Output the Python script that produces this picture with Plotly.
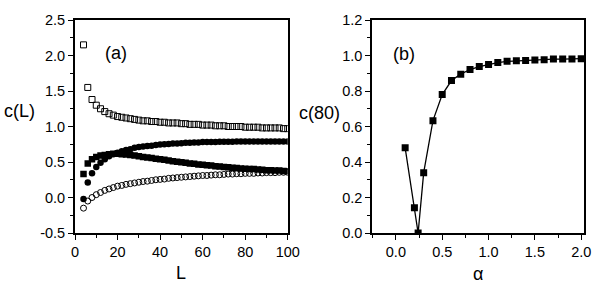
import plotly.graph_objects as go

# ---------------- data ----------------
L_vals = list(range(4, 101, 2))

c_sq_open = [2.15, 1.55, 1.38, 1.30, 1.25, 1.21, 1.18, 1.16, 1.14, 1.13,
             1.12, 1.11, 1.10, 1.09, 1.08, 1.08, 1.07, 1.07, 1.06, 1.06,
             1.05, 1.05, 1.05, 1.04, 1.04, 1.03, 1.03, 1.03, 1.02, 1.02,
             1.02, 1.01, 1.01, 1.01, 1.00, 1.00, 1.00, 1.00, 0.99, 0.99,
             0.99, 0.99, 0.98, 0.98, 0.98, 0.98, 0.98, 0.97, 0.97]

c_circ_fill = [-0.02, 0.21, 0.34, 0.43, 0.49, 0.54, 0.58, 0.61, 0.63, 0.65,
               0.67, 0.68, 0.70, 0.71, 0.72, 0.725, 0.73, 0.74, 0.745, 0.75,
               0.755, 0.76, 0.76, 0.765, 0.77, 0.77, 0.775, 0.775, 0.78, 0.78,
               0.78, 0.78, 0.785, 0.785, 0.785, 0.785, 0.79, 0.79, 0.79, 0.79,
               0.79, 0.79, 0.79, 0.79, 0.79, 0.79, 0.79, 0.79, 0.79]

c_sq_fill = [0.33, 0.48, 0.54, 0.57, 0.59, 0.60, 0.61, 0.615, 0.615, 0.61,
             0.605, 0.60, 0.59, 0.58, 0.57, 0.565, 0.555, 0.545, 0.54, 0.53,
             0.52, 0.51, 0.505, 0.495, 0.49, 0.48, 0.475, 0.465, 0.46, 0.455,
             0.45, 0.44, 0.435, 0.43, 0.425, 0.42, 0.415, 0.41, 0.405, 0.40,
             0.40, 0.395, 0.39, 0.385, 0.385, 0.38, 0.38, 0.375, 0.37]

c_circ_open = [-0.15, -0.05, 0.00, 0.04, 0.07, 0.10, 0.12, 0.14, 0.16, 0.17,
               0.185, 0.195, 0.205, 0.215, 0.225, 0.23, 0.24, 0.25, 0.255, 0.26,
               0.27, 0.275, 0.28, 0.285, 0.29, 0.295, 0.30, 0.305, 0.31, 0.31,
               0.315, 0.32, 0.32, 0.325, 0.33, 0.33, 0.335, 0.335, 0.34, 0.34,
               0.34, 0.345, 0.345, 0.35, 0.35, 0.35, 0.355, 0.355, 0.355]

alpha_vals = [0.1, 0.2, 0.24, 0.3, 0.4, 0.5, 0.6, 0.7, 0.8, 0.9, 1.0,
              1.1, 1.2, 1.3, 1.4, 1.5, 1.6, 1.7, 1.8, 1.9, 2.0]
c80_vals = [0.48, 0.142, 0.0, 0.34, 0.633, 0.78, 0.859, 0.895, 0.921, 0.938, 0.95,
            0.96, 0.967, 0.97, 0.972, 0.974, 0.976, 0.98, 0.98, 0.98, 0.982]

left_xticks = [0, 20, 40, 60, 80, 100]
left_yticks = [-0.5, 0.0, 0.5, 1.0, 1.5, 2.0, 2.5]
right_xticks = [0.0, 0.5, 1.0, 1.5, 2.0]
right_yticks = [0.0, 0.2, 0.4, 0.6, 0.8, 1.0, 1.2]

# ---------------- figure ----------------
FONT = "Liberation Sans, Arial, sans-serif"
fig = go.Figure()

fig.add_trace(go.Scatter(x=L_vals, y=c_sq_open, mode="markers", xaxis="x", yaxis="y",
                         marker=dict(symbol="square-open", size=6, color="black",
                                     line=dict(width=1, color="black"))))
fig.add_trace(go.Scatter(x=L_vals, y=c_circ_open, mode="markers", xaxis="x", yaxis="y",
                         marker=dict(symbol="circle-open", size=6, color="black",
                                     line=dict(width=1, color="black"))))
fig.add_trace(go.Scatter(x=L_vals, y=c_circ_fill, mode="markers", xaxis="x", yaxis="y",
                         marker=dict(symbol="circle", size=6.5, color="black")))
fig.add_trace(go.Scatter(x=L_vals, y=c_sq_fill, mode="markers", xaxis="x", yaxis="y",
                         marker=dict(symbol="square", size=6.5, color="black")))

fig.add_trace(go.Scatter(x=alpha_vals, y=c80_vals, mode="lines+markers", xaxis="x2", yaxis="y2",
                         line=dict(color="black", width=1.3),
                         marker=dict(symbol="square", size=7, color="black")))

axis_common = dict(showline=True, linecolor="black", linewidth=1.8, mirror=True,
                   ticks="outside", ticklen=5, tickwidth=1.3, tickcolor="black",
                   showgrid=False, zeroline=False,
                   tickfont=dict(family=FONT, size=14.5, color="black"))

dom_l = [0.0, 0.418]
dom_r = [0.584, 1.0]

fig.update_layout(
    width=615, height=294,
    margin=dict(l=75, r=31, t=20, b=61),
    paper_bgcolor="white", plot_bgcolor="white",
    showlegend=False,
    xaxis=dict(domain=dom_l, range=[0, 100], tickvals=left_xticks,
               ticktext=[str(v) for v in left_xticks],
               minor=dict(ticks="outside", ticklen=3, tickcolor="black", dtick=10, tick0=0),
               anchor="y", **axis_common),
    yaxis=dict(domain=[0, 1], range=[-0.5, 2.5], tickvals=left_yticks,
               ticktext=[f"{v:.1f}" for v in left_yticks],
               minor=dict(ticks="outside", ticklen=3, tickcolor="black", dtick=0.25, tick0=0),
               anchor="x", **axis_common),
    xaxis2=dict(domain=dom_r, range=[-0.255, 2.03], tickvals=right_xticks,
                ticktext=[f"{v:.1f}" for v in right_xticks],
                minor=dict(ticks="outside", ticklen=3, tickcolor="black", dtick=0.25, tick0=0),
                anchor="y2", **axis_common),
    yaxis2=dict(domain=[0, 1], range=[0, 1.2], tickvals=right_yticks,
                ticktext=[f"{v:.1f}" for v in right_yticks],
                minor=dict(ticks="outside", ticklen=3, tickcolor="black", dtick=0.1, tick0=0),
                anchor="x2", **axis_common),
)

W, H = 615, 294
pl, pr, pt, pb = 75, 31, 20, 61
pw, ph = W - pl - pr, H - pt - pb


def px(x):
    return (x - pl) / pw


def py(y):
    return (H - pb - y) / ph


title_font = dict(family=FONT, size=18, color="black")
annots = [
    dict(text="c(L)", x=px(19), y=py(111)),
    dict(text="c(80)", x=px(319), y=py(113)),
    dict(text="L", x=px(181), y=py(273)),
    dict(text="α", x=px(478), y=py(274)),
    dict(text="(a)", x=px(116), y=py(53)),
    dict(text="(b)", x=px(404), y=py(54)),
]
for a in annots:
    fig.add_annotation(xref="paper", yref="paper", showarrow=False,
                       xanchor="center", yanchor="middle", font=title_font, **a)

fig.write_html("out.html", config={"displayModeBar": False},
               post_script="document.body.style.margin='0';document.body.style.overflow='hidden';")
